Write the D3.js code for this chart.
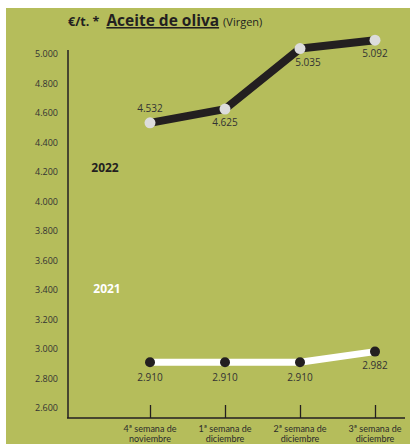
<!DOCTYPE html>
<html><head><meta charset="utf-8">
<script src="https://cdn.jsdelivr.net/npm/d3@7"></script>
<style>html,body{margin:0;padding:0;background:#fff;}svg{display:block;}</style>
</head><body>
<script>
const categories = ["4ª semana de|noviembre", "1ª semana de|diciembre", "2ª semana de|diciembre", "3ª semana de|diciembre"];
const values2022 = [4532, 4625, 5035, 5092];
const values2021 = [2910, 2910, 2910, 2982];
const yTicks = [2600, 2800, 3000, 3200, 3400, 3600, 3800, 4000, 4200, 4400, 4600, 4800, 5000];
const seriesNames = ["2022", "2021"];

const W = 410, H = 444;
const fmtNum = v => (v / 1000).toFixed(3);

const svg = d3.select("body").append("svg").attr("width", W).attr("height", H);
svg.append("rect").attr("x", 6).attr("y", 8).attr("width", W - 6).attr("height", H - 8).attr("fill", "#b5bd5b");

const x = d3.scalePoint().domain(categories).range([150, 375]);
const y = d3.scaleLinear().domain([2600, 5100]).range([408, 39]);

const font = "'Open Sans', 'DejaVu Sans', sans-serif";
const dark = "#231f20";

// Title
const title = svg.append("text").attr("y", 26).attr("font-family", font).attr("fill", dark);
title.append("tspan").attr("x", 68).attr("font-size", 12.5).attr("font-weight", 700).text("€/t. *");
title.append("tspan").attr("dx", 7).attr("font-size", 15.5).attr("font-weight", 700).attr("text-decoration", "underline").text("Aceite de oliva");
title.append("tspan").attr("dx", 4).attr("font-size", 11).attr("font-weight", 400).text("(Virgen)");

// Y axis
svg.append("line").attr("x1", 68).attr("x2", 68).attr("y1", 50).attr("y2", 418).attr("stroke", dark).attr("stroke-width", 1.5);
const yAx = svg.append("g").attr("transform", "translate(68,0)")
  .call(d3.axisLeft(y).tickValues(yTicks).tickSize(0).tickPadding(10).tickFormat(fmtNum));
yAx.select(".domain").remove();
yAx.selectAll("text").attr("font-family", font).attr("font-size", 9).attr("fill", "#333");

// X axis
svg.append("line").attr("x1", 67).attr("x2", 405).attr("y1", 418).attr("y2", 418).attr("stroke", dark).attr("stroke-width", 1.5);
const xAx = svg.append("g").attr("transform", "translate(0,418)")
  .call(d3.axisBottom(x).tickSizeInner(-13).tickSizeOuter(0).tickFormat(""));
xAx.select(".domain").remove();
xAx.selectAll("line").attr("stroke", dark).attr("stroke-width", 1.3);
categories.forEach(c => {
  const parts = c.split("|");
  parts.forEach((p, i) => svg.append("text").attr("text-anchor", "middle")
    .attr("font-family", "Lato, 'Open Sans', sans-serif").attr("font-size", 9).attr("fill", "#2b2b2b")
    .attr("x", x(c)).attr("y", 431.5 + i * 10.8).text(p));
});

const line = d3.line().x((d, i) => x(categories[i])).y(d => y(d));

// 2022 series
svg.append("path").datum(values2022).attr("d", line).attr("fill", "none")
  .attr("stroke", dark).attr("stroke-width", 8);
svg.selectAll(".p22").data(values2022).enter().append("circle")
  .attr("cx", (d, i) => x(categories[i])).attr("cy", d => y(d)).attr("r", 5.5).attr("fill", "#dcdcdc");
const off22 = [[0, -11], [0, 17], [8, 17], [0, 17]];
svg.selectAll(".l22").data(values2022).enter().append("text")
  .attr("x", (d, i) => x(categories[i]) + off22[i][0]).attr("y", (d, i) => y(d) + off22[i][1])
  .attr("text-anchor", "middle").attr("font-family", font).attr("font-size", 10).attr("fill", "#333").text(fmtNum);

// 2021 series
svg.append("path").datum(values2021).attr("d", line).attr("fill", "none")
  .attr("stroke", "#ffffff").attr("stroke-width", 7);
svg.selectAll(".p21").data(values2021).enter().append("circle")
  .attr("cx", (d, i) => x(categories[i])).attr("cy", d => y(d)).attr("r", 5).attr("fill", dark);
svg.selectAll(".l21").data(values2021).enter().append("text")
  .attr("x", (d, i) => x(categories[i])).attr("y", (d, i) => y(d) + (i === 3 ? 17 : 19))
  .attr("text-anchor", "middle").attr("font-family", font).attr("font-size", 10).attr("fill", "#333").text(fmtNum);

// Series labels
svg.append("text").attr("x", 105).attr("y", 172).attr("text-anchor", "middle").attr("font-family", font)
  .attr("font-size", 12).attr("font-weight", 700).attr("fill", dark).text(seriesNames[0]);
svg.append("text").attr("x", 107).attr("y", 293).attr("text-anchor", "middle").attr("font-family", font)
  .attr("font-size", 12).attr("font-weight", 700).attr("fill", "#ffffff").text(seriesNames[1]);
</script>
</body></html>
